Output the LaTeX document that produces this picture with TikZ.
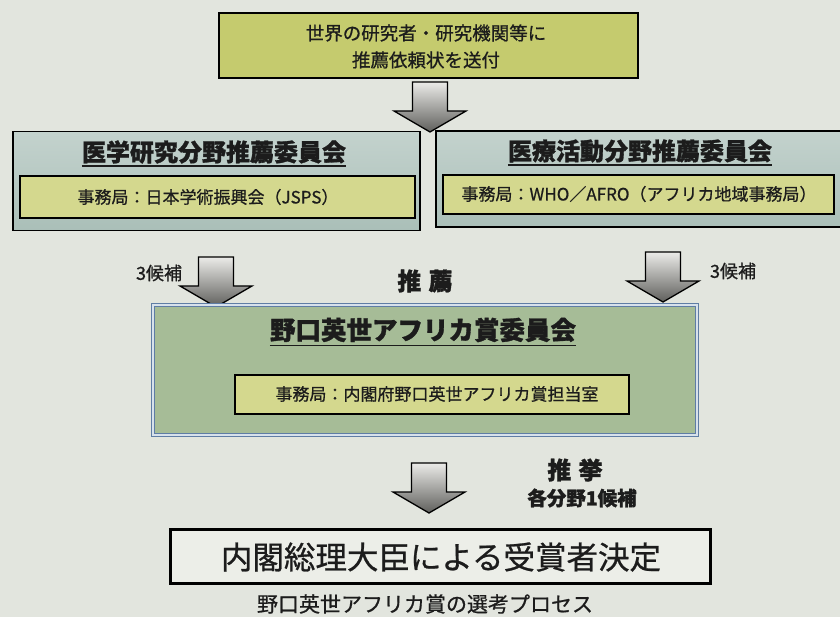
\documentclass[tikz,border=0pt]{standalone}
\usepackage{fontspec}
\newfontfamily\jp{Noto Sans CJK JP}[BoldFeatures={FakeBold=1.2}]
\newfontfamily\jpm{Noto Sans CJK JP}[FakeBold=0.8]
\definecolor{paper}{RGB}{226,229,222}
\definecolor{ylw}{RGB}{197,203,110}
\definecolor{ylwin}{RGB}{212,216,142}
\definecolor{teal}{RGB}{170,191,184}
\definecolor{midg}{RGB}{166,188,151}
\definecolor{blueb}{RGB}{95,125,165}
\definecolor{bluel}{RGB}{215,225,235}
\definecolor{ink}{RGB}{28,28,28}
\definecolor{arrtop}{RGB}{235,235,232}
\definecolor{arrbot}{RGB}{95,95,92}
\definecolor{finalf}{RGB}{236,238,232}
\begin{document}
\begin{tikzpicture}[x=1pt,y=-1pt, font=\jpm, text=ink,
  ybox/.style={draw=black, line width=1.8pt, fill=ylw, inner sep=0pt},
  inbox/.style={draw=black, line width=1.8pt, fill=ylwin, inner sep=0pt},
  cbox/.style={draw=black, line width=1.5pt, top color=teal!70!white, bottom color=teal, inner sep=0pt},
  mbox/.style={draw=blueb, double=bluel, double distance=1.8pt, line width=1.5pt, fill=midg, inner sep=0pt},
  fbox/.style={draw=black, line width=3pt, fill=finalf, inner sep=0pt},
  lbl/.style={inner sep=0pt, font=\jpm\fontsize{17}{20}\selectfont},
  ttl/.style={inner sep=0pt, font=\jp\bfseries\fontsize{24}{28}\selectfont},
  uline/.style={line width=1.6pt, draw=ink},
  fatarrow/.pic={
    \path[draw=black, line width=1.3pt, line join=miter, top color=arrtop, bottom color=arrbot]
      (-17.5,0) -- (17.5,0) -- (17.5,29) -- (36,29) -- (0,50) -- (-36,29) -- (-17.5,29) -- cycle;
  }]
\fill[paper] (0,0) rectangle (840,617);
\useasboundingbox (0,0) rectangle (840,617);

% top box
\node[ybox, minimum width=419pt, minimum height=65pt] (top) at (428.5,45.5) {};
\node[inner sep=0pt, font=\jpm\fontsize{18.5}{22}\selectfont] (t1) at (426,33) {世界の研究者・研究機関等に};
\node[inner sep=0pt, font=\jpm\fontsize{18.5}{22}\selectfont] (t2) at (426,60) {推薦依頼状を送付};

\coordinate (a1) at (430,82);
\pic at (a1) {fatarrow};

% left committee
\node[cbox, minimum width=407pt, minimum height=99pt] (lbox) at (216.5,181) {};
\node[ttl] (lt) at (214,152) {医学研究分野推薦委員会};
\draw[uline] ([yshift=-5pt]lt.base west) -- ([yshift=-5pt]lt.base east);
\node[inbox, minimum width=395pt, minimum height=42pt] (lin) at (217.5,197) {};
\node[lbl] (ltx) at (208,197) {事務局：日本学術振興会（JSPS）};

% right committee
\node[cbox, minimum width=405pt, minimum height=96pt] (rbox) at (638.5,179) {};
\node[ttl] (rt) at (640,151) {医療活動分野推薦委員会};
\draw[uline] ([yshift=-5pt]rt.base west) -- ([yshift=-5pt]rt.base east);
\node[inbox, minimum width=391pt, minimum height=39pt] (rin) at (638.5,194.5) {};
\node[lbl] (rtx) at (639,194) {事務局：WHO／AFRO（アフリカ地域事務局）};

% arrows to middle
\coordinate (a2) at (216,257);
\pic at (a2) {fatarrow};
\coordinate (a3) at (663,252);
\pic at (a3) {fatarrow};
\node[inner sep=0pt, font=\jpm\fontsize{18}{21}\selectfont] (c1) at (159,273) {3候補};
\node[inner sep=0pt, font=\jpm\fontsize{18}{21}\selectfont] (c2) at (733,271) {3候補};
\node[inner sep=0pt, font=\jp\bfseries\fontsize{24}{28}\selectfont] (rec) at (425,281) {推\hspace{0.3em}薦};

% middle committee
\node[mbox, minimum width=544pt, minimum height=130pt] (mbox) at (425,370) {};
\node[inner sep=0pt, font=\jp\bfseries\fontsize{25.5}{30}\selectfont] (mt) at (423,330) {野口英世アフリカ賞委員会};
\draw[uline] ([yshift=-6pt]mt.base west) -- ([yshift=-6pt]mt.base east);
\node[inbox, minimum width=394pt, minimum height=39pt] (min) at (432,394.5) {};
\node[lbl] (mtx) at (437,394) {事務局：内閣府野口英世アフリカ賞担当室};

% bottom arrow
\coordinate (a4) at (429,463);
\pic at (a4) {fatarrow};
\node[inner sep=0pt, font=\jp\bfseries\fontsize{24}{28}\selectfont] (sui) at (575,470) {推\hspace{0.3em}挙};
\node[inner sep=0pt, font=\jp\bfseries\fontsize{19.5}{23}\selectfont] (each) at (582,498) {各分野1候補};

% final
\node[fbox, minimum width=540pt, minimum height=54pt] (fin) at (440,556) {};
\node[inner sep=0pt, font=\jpm\fontsize{31.5}{36}\selectfont] (ft) at (441,557) {内閣総理大臣による受賞者決定};

% caption
\node[inner sep=0pt, font=\jpm\fontsize{21}{25}\selectfont] (cap) at (425,604) {野口英世アフリカ賞の選考プロセス};
\end{tikzpicture}
\end{document}
